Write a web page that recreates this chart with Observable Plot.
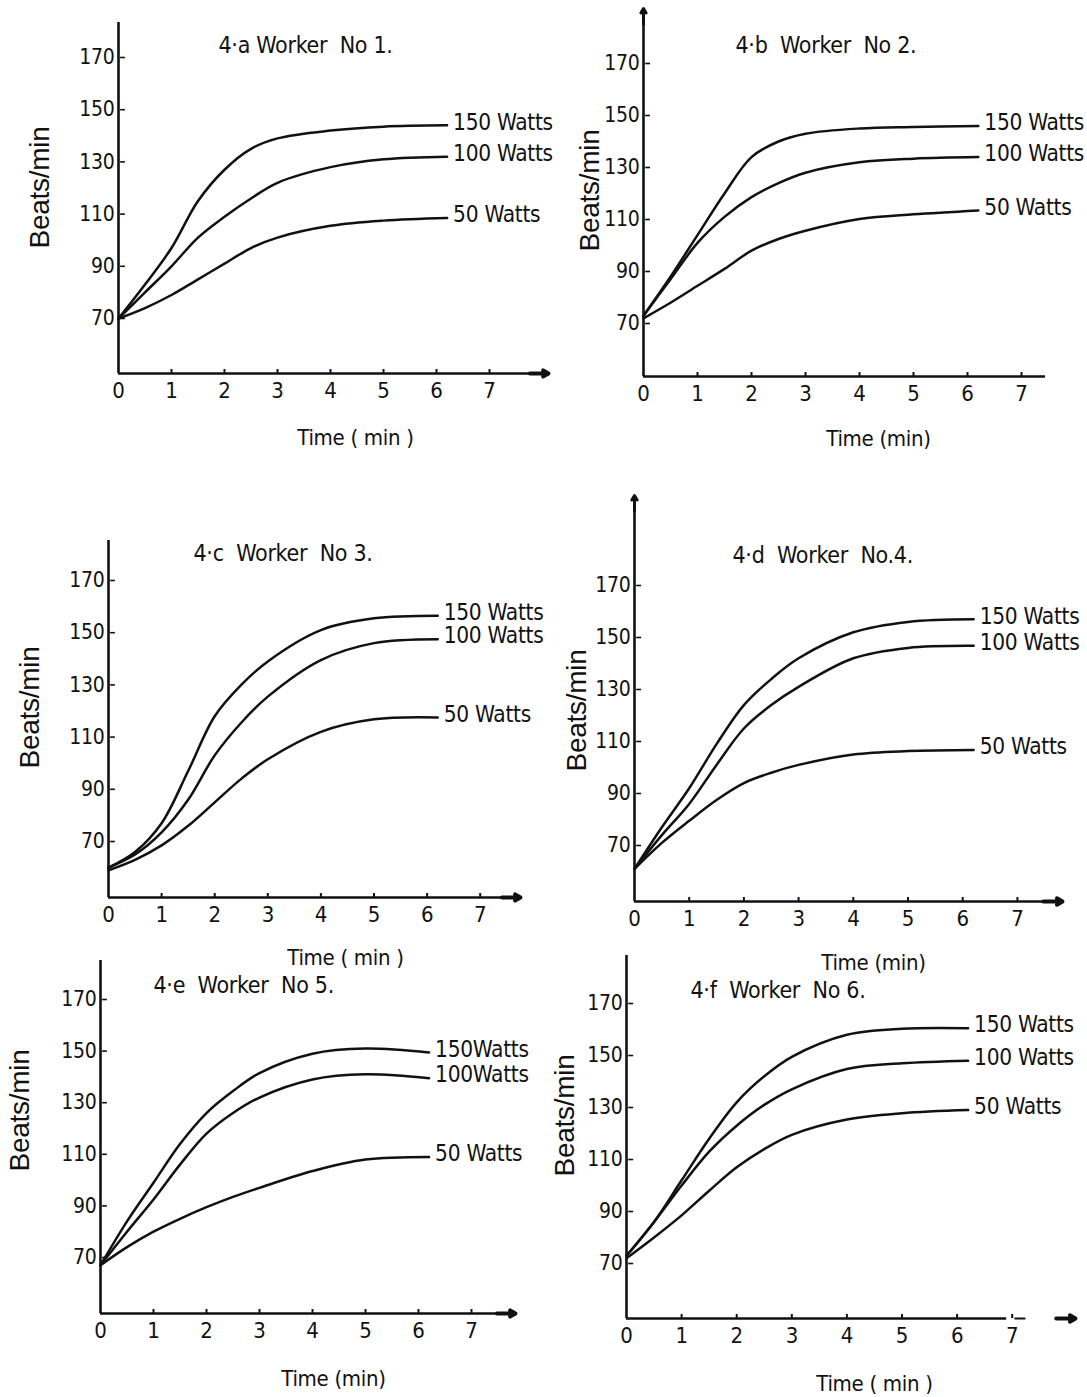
<!DOCTYPE html>
<html><head><meta charset="utf-8">
<script src="https://cdn.jsdelivr.net/npm/d3@7"></script>
<script src="https://cdn.jsdelivr.net/npm/@observablehq/plot@0.6"></script>
<style>
body{margin:0;background:#fff;}
#wrap{position:relative;width:1087px;height:1397px;overflow:hidden;background:#fff;}
.panel{position:absolute;width:700px;}
.panel svg{max-width:none !important;}
</style></head><body><div id="wrap"></div>
<script>
// ---------- data ----------
const times = [0, 0.5, 1, 1.5, 2, 2.5, 3, 4, 5, 6.2];
const loads = ["150 Watts", "100 Watts", "50 Watts"];
const loadsE = ["150Watts", "100Watts", "50 Watts"];
const yTicks = [70, 90, 110, 130, 150, 170];
const xTicks = [0, 1, 2, 3, 4, 5, 6, 7];
const titles = ["4·a Worker  No 1.", "4·b  Worker  No 2.", "4·c  Worker  No 3.", "4·d  Worker  No.4.", "4·e  Worker  No 5.", "4·f  Worker  No 6."];
const xLabels = ["Time ( min )", "Time (min)", "Time ( min )", "Time (min)", "Time (min)", "Time ( min )"];
const yLabel = "Beats/min";

// Worker 1
const w1_150 = [70, 83, 97, 115, 127, 135, 139, 142, 143.5, 144];
const w1_100 = [70, 80, 90, 101, 109, 116, 122, 128, 131, 132];
const w1_50  = [70, 74, 79, 85, 91, 97, 101, 105.5, 107.5, 108.5];
// Worker 2
const w2_150 = [73, 88, 104, 120, 134, 140, 143, 145, 145.6, 146];
const w2_100 = [73, 87, 101, 111, 118.6, 124, 128, 132, 133.4, 134];
const w2_50  = [72, 78, 84.5, 91, 98, 102.5, 105.7, 110.2, 112, 113.5];
// Worker 3
const w3_150 = [60, 66, 77, 97, 118, 130, 139, 151, 155.5, 156.5];
const w3_100 = [60, 65, 73.5, 86, 103, 115.5, 125.5, 139.5, 146, 147.5];
const w3_50  = [59, 63, 68.5, 76, 85, 94, 101.5, 112, 116.8, 117.5];
// Worker 4
const w4_150 = [61, 77, 92, 109, 124, 134, 142, 152, 156, 157];
const w4_100 = [61, 74, 86, 101, 115, 124, 131, 142, 146, 146.8];
const w4_50  = [61, 71, 79.5, 87.5, 94, 98, 101, 105, 106.3, 106.7];
// Worker 5
const w5_150 = [67, 84, 99, 114, 126, 134.5, 141.5, 149, 151, 149.5];
const w5_100 = [67, 80, 92.5, 106, 118, 126, 132, 139, 141, 139.5];
const w5_50  = [67, 74, 80, 85, 89.5, 93.5, 97, 103.5, 108, 109];
// Worker 6
const w6_150 = [73, 86, 102, 118, 132, 142, 149.5, 158, 160.3, 160.5];
const w6_100 = [73, 86, 100, 113, 123, 131, 137, 144.8, 147, 148];
const w6_50  = [72, 80, 88.5, 98, 107, 114, 119.5, 125.4, 127.8, 129];

// ---------- layout (page pixel geometry of each panel) ----------
const layouts = [
  {left:0,   top:0,   ax:118, ay:373,  yTop:22,  xEnd:548,  pxMin:53,   y70:318,  pxBpm:2.61, title:[218,45],  ylab:[40,187],  xlab:[355,437],  arrowX:true},
  {left:540, top:0,   ax:643, ay:376,  yTop:8,   xEnd:1045, pxMin:54,   y70:323,  pxBpm:2.6,  title:[735,45],  ylab:[590,190], xlab:[878,438],  arrowY:true},
  {left:0,   top:480, ax:108, ay:897,  yTop:540, xEnd:520,  pxMin:53.1, y70:841,  pxBpm:2.61, title:[193,553], ylab:[30,707],  xlab:[345,957],  arrowX:true},
  {left:540, top:480, ax:634, ay:901,  yTop:495, xEnd:1062, pxMin:54.7, y70:845,  pxBpm:2.6,  title:[732,555], ylab:[577,710], xlab:[873,962],  arrowX:true, arrowY:true},
  {left:0,   top:940, ax:100, ay:1313, yTop:960, xEnd:515,  pxMin:53,   y70:1257, pxBpm:2.58, title:[153,985], ylab:[20,1110], xlab:[333,1378], arrowX:true},
  {left:540, top:940, ax:626, ay:1318, yTop:955, xEnd:1075, pxMin:55.1, y70:1263, pxBpm:2.6,  title:[690,990], ylab:[565,1115],xlab:[874,1383], arrowX:true, gapX:true}
];
const panelSeries = [
  [w1_150, w1_100, w1_50], [w2_150, w2_100, w2_50], [w3_150, w3_100, w3_50],
  [w4_150, w4_100, w4_50], [w5_150, w5_100, w5_50], [w6_150, w6_100, w6_50]
];
const panelLoads = [loads, loads, loads, loads, loadsE, loads];

const FONT = '"Liberation Sans Narrow","DejaVu Sans Condensed","Arial Narrow",sans-serif';
const INK = "#111";

function makePanel(L, title, xlab, series, names) {
  const mL = L.ax - L.left, mR = 40;
  const width = L.xEnd - L.left + mR;
  const mT = L.yTop - L.top, mB = 95;
  const height = L.ay - L.top + mB;
  const xMax = (L.xEnd - L.ax) / L.pxMin;
  const yMin = 70 - (L.ay - L.y70) / L.pxBpm;
  const yMax = 70 + (L.y70 - L.yTop) / L.pxBpm;
  const rows = series.flatMap((vals, i) => vals.map((v, j) => ({t: times[j], bpm: v, load: names[i]})));
  const ends = series.map((vals, i) => ({t: times[times.length - 1], bpm: vals[vals.length - 1], load: names[i]}));
  const tx = (p) => p[0] - L.ax, ty = (p) => p[1] - L.yTop;
  const marks = [
    Plot.ruleX([0], {y1: yMin, y2: yMax, stroke: INK, strokeWidth: 2.6}),
    Plot.ruleY([yMin], {x1: 0, x2: L.gapX ? 6.9 : xMax, stroke: INK, strokeWidth: 2.6}),
    Plot.ruleY(yTicks, {x1: 0.04, x2: 0.13, stroke: INK, strokeWidth: 1.6}),
    Plot.ruleX(xTicks.slice(1), {y1: yMin, y2: yMin + 4 / L.pxBpm, stroke: INK, strokeWidth: 2}),
    Plot.axisY(yTicks, {tickSize: 0, tickPadding: 4, fontSize: 21, label: null, fill: INK}),
    Plot.axisX(xTicks, {tickSize: 0, tickPadding: 9, fontSize: 22, label: null, fill: INK}),
    Plot.line(rows, {x: "t", y: "bpm", z: "load", curve: "catmull-rom", stroke: INK, strokeWidth: 2.5}),
    Plot.text(ends, {x: "t", y: "bpm", text: "load", textAnchor: "start", dx: 6, dy: -3, fontSize: 22.5, fill: INK}),
    Plot.text([title], {frameAnchor: "top-left", dx: tx(L.title), dy: ty(L.title), textAnchor: "start", lineAnchor: "middle", fontSize: 23, fill: INK}),
    Plot.text([xlab], {frameAnchor: "top-left", dx: tx(L.xlab), dy: ty(L.xlab), textAnchor: "middle", lineAnchor: "middle", fontSize: 22, fill: INK}),
    Plot.text([yLabel], {frameAnchor: "top-left", dx: tx(L.ylab), dy: ty(L.ylab), textAnchor: "middle", lineAnchor: "middle", rotate: -90, fontSize: 28, fill: INK, fontFamily: '"Liberation Sans",Arial,sans-serif'})
  ];
  if (L.arrowX) marks.push(Plot.arrow([0], {x1: xMax - 0.35, x2: xMax, y1: yMin, y2: yMin, stroke: INK, strokeWidth: 4, headLength: 10}));
  if (L.gapX) {
    marks.push(Plot.ruleY([yMin], {x1: 7.05, x2: 7.25, stroke: INK, strokeWidth: 2}));
  }
  if (L.arrowY) marks.push(Plot.arrow([0], {x1: 0, x2: 0, y1: yMax - 6, y2: yMax, stroke: INK, strokeWidth: 3, headLength: 10}));
  return Plot.plot({
    width, height, marginLeft: mL, marginRight: mR, marginTop: mT, marginBottom: mB,
    x: {domain: [0, xMax]}, y: {domain: [yMin, yMax]},
    style: {fontFamily: FONT, background: "transparent", overflow: "visible", color: INK, maxWidth: "none", letterSpacing: "-0.3px"},
    marks
  });
}

const wrap = document.getElementById("wrap");
layouts.forEach((L, i) => {
  const d = document.createElement("div");
  d.className = "panel";
  d.style.left = L.left + "px";
  d.style.top = L.top + "px";
  d.appendChild(makePanel(L, titles[i], xLabels[i], panelSeries[i], panelLoads[i]));
  wrap.appendChild(d);
});
</script></body></html>
